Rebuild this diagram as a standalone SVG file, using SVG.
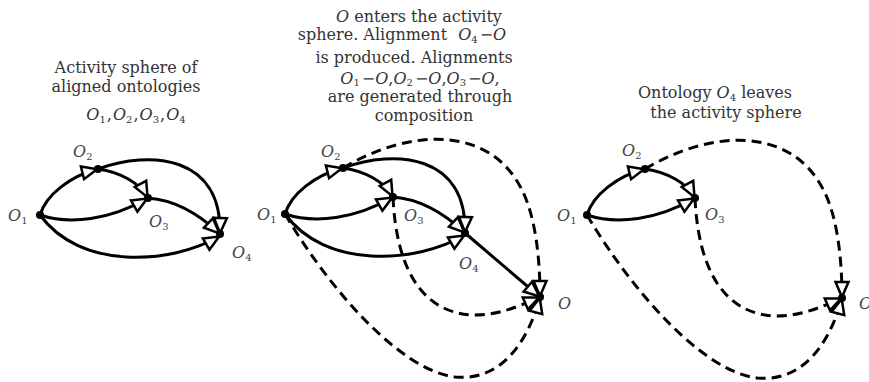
<svg xmlns="http://www.w3.org/2000/svg" width="869" height="382" viewBox="0 0 869 382">
<style>
  .bg{fill:#fff}
  .t{font-family:"DejaVu Serif","Liberation Serif",serif;font-size:16px;fill:#333;text-anchor:middle}
  .lb{font-family:"DejaVu Serif","Liberation Serif",serif;font-size:16px;fill:#444}
  .it{font-style:italic}
  .sb{font-size:10px}
  .e{fill:none;stroke:#000;stroke-width:3;marker-end:url(#ah)}
  .d{stroke-dasharray:10 6}
  .n{fill:#000}
</style>
<defs>
  <marker id="ah" markerUnits="userSpaceOnUse" markerWidth="20" markerHeight="16" viewBox="0 0 20 16" refX="17" refY="8" orient="auto" overflow="visible">
    <path d="M1,1.5 L16,8 L1,14.5 Z" fill="#fff" stroke="#000" stroke-width="2.5" stroke-dasharray="none"/>
  </marker>
</defs>
<rect class="bg" x="0" y="0" width="869" height="382"/>

<!-- captions -->
<g id="caption1">
  <text class="t" x="126" y="73">Activity sphere of</text>
  <text class="t" x="126" y="92">aligned ontologies</text>
  <text class="t" x="136" y="120"><tspan class="it">O</tspan><tspan class="sb" dy="3">1</tspan><tspan dy="-3" dx="1">,</tspan><tspan class="it" dx="1">O</tspan><tspan class="sb" dy="3">2</tspan><tspan dy="-3" dx="1">,</tspan><tspan class="it" dx="1">O</tspan><tspan class="sb" dy="3">3</tspan><tspan dy="-3" dx="1">,</tspan><tspan class="it" dx="1">O</tspan><tspan class="sb" dy="3">4</tspan></text>
</g>
<g id="caption2">
  <text class="t" x="419" y="22"><tspan class="it">O</tspan> enters the activity</text>
  <text class="t" x="402" y="40">sphere. Alignment <tspan class="it" dx="6">O</tspan><tspan class="sb" dy="3">4</tspan><tspan dy="-3" dx="2">−</tspan><tspan class="it">O</tspan></text>
  <text class="t" x="414" y="63">is produced. Alignments</text>
  <text class="t" x="420" y="84"><tspan class="it">O</tspan><tspan class="sb" dy="2">1</tspan><tspan dy="-2" dx="2">−</tspan><tspan class="it">O</tspan>,<tspan class="it">O</tspan><tspan class="sb" dy="2">2</tspan><tspan dy="-2" dx="2">−</tspan><tspan class="it">O</tspan>,<tspan class="it">O</tspan><tspan class="sb" dy="2">3</tspan><tspan dy="-2" dx="2">−</tspan><tspan class="it">O</tspan>,</text>
  <text class="t" x="420" y="102">are generated through</text>
  <text class="t" x="424" y="121">composition</text>
</g>
<g id="caption3">
  <text class="t" x="715" y="98">Ontology <tspan class="it">O</tspan><tspan class="sb" dy="3">4</tspan><tspan dy="-3"> leaves</tspan></text>
  <text class="t" x="726" y="118">the activity sphere</text>
</g>

<!-- connectors -->
<g id="connectors">
  <g id="panel1-edges" transform="translate(-245,1)">
    <path class="e" d="M285,214 C291,194 315,175 343,168"/>
    <path class="e" d="M343,168 C365,171 385,182 393,197"/>
    <path class="e" d="M285,214 C315,224 355,219 393,197"/>
    <path class="e" d="M343,168 C395,149 467,154 465,233"/>
    <path class="e" d="M393,197 C420,199 445,214 465,233"/>
    <path class="e" d="M285,214 C325,269 415,264 465,235"/>
  </g>
  <g id="panel2-edges">
    <path class="e d" d="M343,168 C410,128 490,125 522,190 C536,218 540,260 540,297"/>
    <path class="e d" d="M393,197 C396,265 420,314 475,315 C500,315 522,305 540,297"/>
    <path class="e d" d="M285,214 C330,290 400,370 455,377 C505,382 530,335 540,297"/>
    <path class="e" d="M285,214 C291,194 315,175 343,168"/>
    <path class="e" d="M343,168 C365,171 385,182 393,197"/>
    <path class="e" d="M285,214 C315,224 355,219 393,197"/>
    <path class="e" d="M343,168 C395,149 467,154 465,233"/>
    <path class="e" d="M393,197 C420,199 445,214 465,233"/>
    <path class="e" d="M285,214 C325,269 415,264 465,235"/>
    <path class="e" d="M465,233 L540,297"/>
  </g>
  <g id="panel3-edges" transform="translate(302,1)">
    <path class="e d" d="M343,168 C410,128 490,125 522,190 C536,218 540,260 540,297"/>
    <path class="e d" d="M393,197 C396,265 420,314 475,315 C500,315 522,305 540,297"/>
    <path class="e d" d="M285,214 C330,290 400,370 455,377 C505,382 530,335 540,297"/>
    <path class="e" d="M285,214 C291,194 315,175 343,168"/>
    <path class="e" d="M343,168 C365,171 385,182 393,197"/>
    <path class="e" d="M285,214 C315,224 355,219 393,197"/>
  </g>
</g>

<!-- panel 1 nodes -->
<g id="p1-O1"><circle class="n" cx="40" cy="215" r="4"/><text class="lb" x="8" y="221"><tspan class="it">O</tspan><tspan class="sb" dy="3">1</tspan></text></g>
<g id="p1-O2"><circle class="n" cx="98" cy="169" r="4"/><text class="lb" x="73" y="157"><tspan class="it">O</tspan><tspan class="sb" dy="3">2</tspan></text></g>
<g id="p1-O3"><circle class="n" cx="148" cy="198" r="4"/><text class="lb" x="149" y="227"><tspan class="it">O</tspan><tspan class="sb" dy="3">3</tspan></text></g>
<g id="p1-O4"><circle class="n" cx="220" cy="234" r="4"/><text class="lb" x="232" y="258"><tspan class="it">O</tspan><tspan class="sb" dy="3">4</tspan></text></g>

<!-- panel 2 nodes -->
<g id="p2-O1"><circle class="n" cx="285" cy="214" r="4"/><text class="lb" x="257" y="220"><tspan class="it">O</tspan><tspan class="sb" dy="3">1</tspan></text></g>
<g id="p2-O2"><circle class="n" cx="343" cy="168" r="4"/><text class="lb" x="321" y="157"><tspan class="it">O</tspan><tspan class="sb" dy="3">2</tspan></text></g>
<g id="p2-O3"><circle class="n" cx="393" cy="197" r="4"/><text class="lb" x="404" y="221"><tspan class="it">O</tspan><tspan class="sb" dy="3">3</tspan></text></g>
<g id="p2-O4"><circle class="n" cx="465" cy="233" r="4"/><text class="lb" x="459" y="269"><tspan class="it">O</tspan><tspan class="sb" dy="3">4</tspan></text></g>
<g id="p2-O"><circle class="n" cx="540" cy="297" r="4"/><text class="lb it" x="558" y="309">O</text></g>

<!-- panel 3 nodes -->
<g id="p3-O1"><circle class="n" cx="587" cy="215" r="4"/><text class="lb" x="557" y="221"><tspan class="it">O</tspan><tspan class="sb" dy="3">1</tspan></text></g>
<g id="p3-O2"><circle class="n" cx="645" cy="169" r="4"/><text class="lb" x="622" y="156"><tspan class="it">O</tspan><tspan class="sb" dy="3">2</tspan></text></g>
<g id="p3-O3"><circle class="n" cx="695" cy="198" r="4"/><text class="lb" x="705" y="220"><tspan class="it">O</tspan><tspan class="sb" dy="3">3</tspan></text></g>
<g id="p3-O"><circle class="n" cx="842" cy="298" r="4"/><text class="lb it" x="859" y="309">O</text></g>
</svg>
